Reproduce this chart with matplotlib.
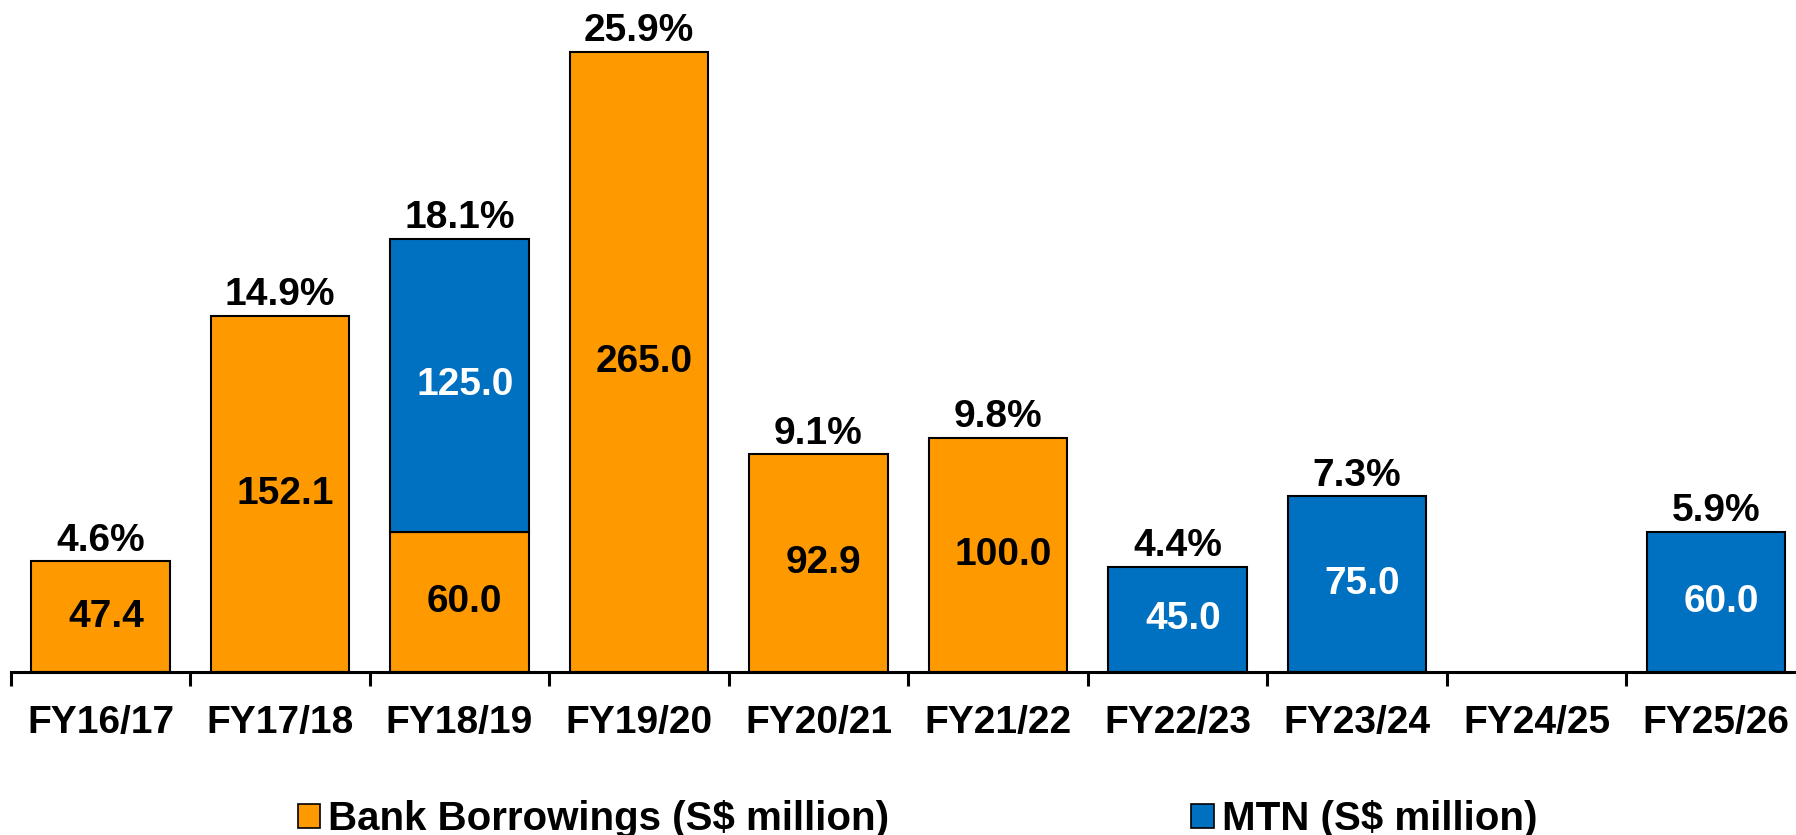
import matplotlib
matplotlib.use("Agg")
import matplotlib.pyplot as plt
from matplotlib.patches import Patch
import numpy as np

categories = ["FY16/17", "FY17/18", "FY18/19", "FY19/20", "FY20/21",
              "FY21/22", "FY22/23", "FY23/24", "FY24/25", "FY25/26"]
bank = [47.4, 152.1, 60.0, 265.0, 92.9, 100.0, 0, 0, 0, 0]
mtn = [0, 0, 125.0, 0, 0, 0, 45.0, 75.0, 0, 60.0]
pct_labels = ["4.6%", "14.9%", "18.1%", "25.9%", "9.1%", "9.8%",
              "4.4%", "7.3%", "", "5.9%"]
series_names = ["Bank Borrowings (S$ million)", "MTN (S$ million)"]

ORANGE = "#FF9900"
BLUE = "#0070C0"

plt.rcParams["font.family"] = ["Liberation Sans", "DejaVu Sans"]
plt.rcParams["font.weight"] = "bold"

W, H = 1796, 835
fig = plt.figure(figsize=(W / 100, H / 100), dpi=100)
ax = fig.add_axes([10.7 / W, (H - 672) / H, 1795 / W, 672 / H])

x = np.arange(len(categories))
bw = 0.77
bank_arr = np.array(bank)
mtn_arr = np.array(mtn)

for i in x:
    if bank_arr[i] > 0:
        ax.bar(i, bank_arr[i], width=bw, color=ORANGE, edgecolor="black", linewidth=1.5, zorder=2)
        ax.text(i + 0.03, bank_arr[i] / 2, f"{bank_arr[i]:.1f}", ha="center", va="center",
                fontsize=28, fontweight="bold", color="black", zorder=3)
    if mtn_arr[i] > 0:
        ax.bar(i, mtn_arr[i], width=bw, bottom=bank_arr[i], color=BLUE, edgecolor="black",
               linewidth=1.5, zorder=2)
        ax.text(i + 0.03, bank_arr[i] + mtn_arr[i] / 2, f"{mtn_arr[i]:.1f}", ha="center", va="center",
                fontsize=28, fontweight="bold", color="white", zorder=3)
    total = bank_arr[i] + mtn_arr[i]
    if pct_labels[i]:
        ax.annotate(pct_labels[i], (i, total), xytext=(0, 7.5), textcoords="offset points",
                    ha="center", va="baseline", fontsize=28, fontweight="bold", color="black")

ax.set_xlim(-0.5, len(categories) - 0.5)
ax.set_ylim(0, 287)
ax.set_xticks(x)
ax.set_xticklabels(categories, fontsize=28, fontweight="bold")
ax.tick_params(axis="x", which="major", length=0, pad=24)
ax.set_xticks(np.arange(-0.5, len(categories) - 0.5, 1.0), minor=True)
ax.tick_params(axis="x", which="minor", length=10, width=2.2, direction="out", color="black")
ax.set_yticks([])
for s in ["top", "right", "left"]:
    ax.spines[s].set_visible(False)
ax.spines["bottom"].set_linewidth(2.2)
ax.spines["bottom"].set_zorder(4)

handles = [Patch(facecolor=ORANGE, edgecolor="black", linewidth=1.2),
           Patch(facecolor=BLUE, edgecolor="black", linewidth=1.2)]
fig.legend(handles, series_names, loc="center", bbox_to_anchor=(917.5 / W, 16 / H), ncol=2,
           frameon=False, prop={"size": 29, "weight": "bold"}, handlelength=0.55,
           handleheight=0.55, handletextpad=0.2, columnspacing=7.5, borderpad=0)

fig.savefig("out.png", dpi=100)
